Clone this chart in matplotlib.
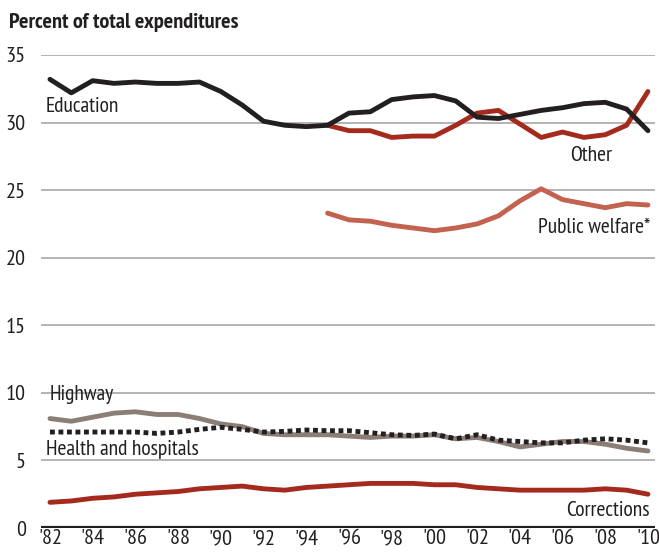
import numpy as np
import matplotlib
matplotlib.use('Agg')
import matplotlib.pyplot as plt

plt.rcParams['font.family'] = ['PT Sans Narrow', 'DejaVu Sans']

# data
years = list(range(1982, 2011))
years_late = list(range(1995, 2011))

education = [33.2, 32.2, 33.1, 32.9, 33.0, 32.9, 32.9, 33.0, 32.3, 31.3, 30.1, 29.8, 29.7, 29.8,
             30.7, 30.8, 31.7, 31.9, 32.0, 31.6, 30.4, 30.3, 30.6, 30.9, 31.1, 31.4, 31.5, 31.0, 29.4]
other = [29.8, 29.4, 29.4, 28.9, 29.0, 29.0, 29.8, 30.7, 30.9, 29.9, 28.9, 29.3, 28.9, 29.1, 29.8, 32.3]
public_welfare = [23.3, 22.8, 22.7, 22.4, 22.2, 22.0, 22.2, 22.5, 23.1, 24.2, 25.1, 24.3, 24.0, 23.7, 24.0, 23.9]
highway = [8.1, 7.9, 8.2, 8.5, 8.6, 8.4, 8.4, 8.1, 7.7, 7.5, 7.0, 6.9, 6.9, 6.9,
           6.8, 6.7, 6.8, 6.8, 6.9, 6.6, 6.7, 6.4, 6.0, 6.2, 6.4, 6.4, 6.2, 5.9, 5.7]
health = [7.1, 7.1, 7.1, 7.1, 7.1, 7.0, 7.1, 7.3, 7.45, 7.3, 7.1, 7.15, 7.25, 7.2,
          7.2, 7.05, 6.9, 6.85, 6.95, 6.6, 6.9, 6.5, 6.4, 6.3, 6.3, 6.5, 6.6, 6.5, 6.3]
corrections = [1.9, 2.0, 2.2, 2.3, 2.5, 2.6, 2.7, 2.9, 3.0, 3.1, 2.9, 2.8, 3.0, 3.1,
               3.2, 3.3, 3.3, 3.3, 3.2, 3.2, 3.0, 2.9, 2.8, 2.8, 2.8, 2.8, 2.9, 2.8, 2.5]

tick_years = list(range(1982, 2011, 2))
tick_labels = ["'%02d" % (y % 100) for y in tick_years]

black = '#231f20'
red = '#a52a1e'
salmon = '#c3634f'
taupe = '#8b7e77'

fig = plt.figure(figsize=(6.59, 5.53), dpi=100)
ax = fig.add_axes([41 / 659, 25 / 553, 614 / 659, 473 / 553])

for y in [5, 10, 15, 20, 25, 30, 35]:
    ax.axhline(y, color='#a7a7a7', lw=1.2, zorder=0)
ax.axhline(0, color=black, lw=3, zorder=5)

ax.plot(years, highway, color=taupe, lw=3.5, solid_capstyle='round')
ax.plot(years, health, color=black, lw=3.5, linestyle=(0, (1.0, 0.75)))
ax.plot(years, corrections, color=red, lw=3.5, solid_capstyle='round')
ax.plot(years_late, public_welfare, color=salmon, lw=3.5, solid_capstyle='round')
ax.plot(years_late, other, color=red, lw=3.5, solid_capstyle='round')
ax.plot(years, education, color=black, lw=3.5, solid_capstyle='round')

ax.set_xlim(1981.58, 2010.33)
ax.set_ylim(0, 35)
ax.set_xticks(tick_years)
ax.set_xticklabels(tick_labels)
ax.set_yticks([0, 5, 10, 15, 20, 25, 30, 35])
ax.tick_params(length=0, labelsize=16, colors=black, pad=1)
ax.tick_params(axis='y', pad=11)
for s in ax.spines.values():
    s.set_visible(False)
ax.patch.set_visible(False)

lab = dict(fontsize=15.5, color=black)
ax.text(1981.8, 31.2, 'Education', va='center', ha='left', **lab)
ax.text(2008.3, 27.6, 'Other', va='center', ha='right', **lab)
ax.text(2010.1, 22.2, 'Public welfare*', va='center', ha='right', **lab)
ax.text(1982.0, 9.85, 'Highway', va='center', ha='left', **lab)
ax.text(1981.8, 5.8, 'Health and hospitals', va='center', ha='left', **lab)
ax.text(2010.1, 1.33, 'Corrections', va='center', ha='right', **lab)

fig.text(9 / 659, 1 - 23 / 553, 'Percent of total expenditures', fontsize=16, fontweight='bold',
         color=black, va='center', ha='left')

fig.savefig('out.png', dpi=100)
